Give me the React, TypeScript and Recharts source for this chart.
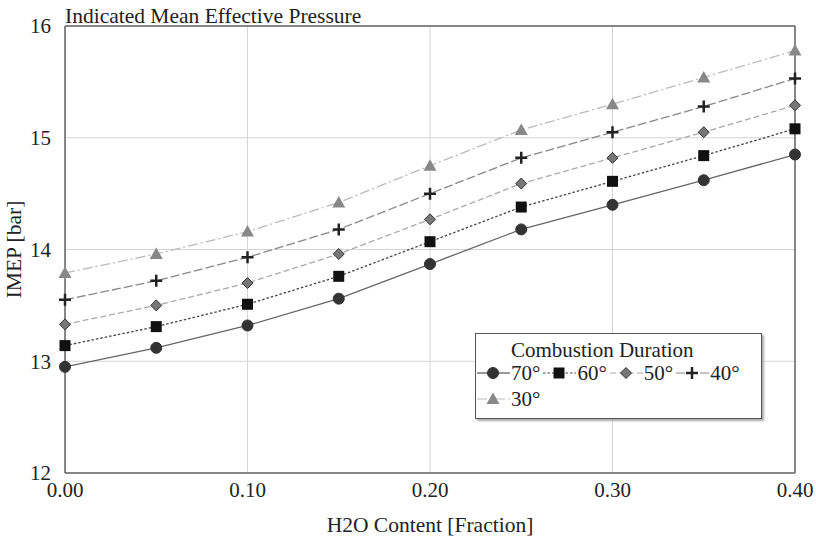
import { LineChart, Line, XAxis, YAxis, CartesianGrid, ReferenceLine } from 'recharts'

const h2o = [0, 0.05, 0.1, 0.15, 0.2, 0.25, 0.3, 0.35, 0.4]
const imep70 = [12.95, 13.12, 13.32, 13.56, 13.87, 14.18, 14.4, 14.62, 14.85]
const imep60 = [13.14, 13.31, 13.51, 13.76, 14.07, 14.38, 14.61, 14.84, 15.08]
const imep50 = [13.33, 13.5, 13.7, 13.96, 14.27, 14.59, 14.82, 15.05, 15.29]
const imep40 = [13.55, 13.72, 13.93, 14.18, 14.5, 14.82, 15.05, 15.28, 15.53]
const imep30 = [13.79, 13.96, 14.16, 14.42, 14.75, 15.07, 15.3, 15.54, 15.78]

const xTicks = [0, 0.1, 0.2, 0.3, 0.4]
const yTicks = [12, 13, 14, 15, 16]

const data = h2o.map((x, i) => ({
  x,
  d70: imep70[i],
  d60: imep60[i],
  d50: imep50[i],
  d40: imep40[i],
  d30: imep30[i],
}))

const FONT = '"Liberation Serif", "Times New Roman", serif'

type Shape = 'circle' | 'square' | 'diamond' | 'plus' | 'triangle'

function Marker({ shape, cx, cy }: { shape: Shape; cx: number; cy: number }) {
  if (shape === 'circle') return <circle cx={cx} cy={cy} r={5.5} fill="#333" stroke="#333" />
  if (shape === 'square') return <rect x={cx - 5.5} y={cy - 5.5} width={11} height={11} fill="#111" />
  if (shape === 'diamond')
    return (
      <path
        d={`M${cx},${cy - 5.5}L${cx + 5.5},${cy}L${cx},${cy + 5.5}L${cx - 5.5},${cy}Z`}
        fill="#777"
        stroke="#333"
        strokeWidth={1}
      />
    )
  if (shape === 'plus')
    return (
      <path
        d={`M${cx - 6},${cy}H${cx + 6}M${cx},${cy - 6}V${cy + 6}`}
        stroke="#222"
        strokeWidth={2.5}
      />
    )
  return (
    <path d={`M${cx},${cy - 6.5}L${cx + 6.5},${cy + 5}L${cx - 6.5},${cy + 5}Z`} fill="#888" />
  )
}

const series = [
  { key: 'd70', name: '70°', color: '#666', dash: undefined, shape: 'circle' as Shape },
  { key: 'd60', name: '60°', color: '#444', dash: '2.5 2', shape: 'square' as Shape },
  { key: 'd50', name: '50°', color: '#aaa', dash: '6 3', shape: 'diamond' as Shape },
  { key: 'd40', name: '40°', color: '#888', dash: '9 3', shape: 'plus' as Shape },
  { key: 'd30', name: '30°', color: '#bbb', dash: '10 3 2 3', shape: 'triangle' as Shape },
]

function LegendBox() {
  return (
    <div
      style={{
        position: 'absolute',
        left: 475,
        top: 333,
        width: 287,
        height: 86,
        border: '1px solid #555',
        boxShadow: '2px 2px 2px #aaa',
        background: '#fff',
        fontFamily: FONT,
        fontSize: 21,
        color: '#222',
        boxSizing: 'border-box',
        lineHeight: '26px',
      }}
    >
      <div style={{ paddingLeft: 35, paddingTop: 3 }}>Combustion Duration</div>
      <div style={{ display: 'flex', flexWrap: 'wrap', marginTop: -3 }}>
        {series.map((s) => (
          <div key={s.key} style={{ display: 'flex', alignItems: 'center', marginRight: 2 }}>
            <svg width={35} height={20}>
              <line x1={1} y1={10} x2={34} y2={10} stroke={s.color === '#666' ? '#333' : s.color} strokeWidth={1.2} strokeDasharray={s.dash} />
              <Marker shape={s.shape} cx={17} cy={10} />
            </svg>
            <span>{s.name}</span>
          </div>
        ))}
      </div>
    </div>
  )
}

const tickStyle = { fontFamily: FONT, fontSize: 21, fill: '#222' }
const labelStyle = { fontFamily: FONT, fontSize: 21.5, fill: '#222' }

export default function App() {
  return (
    <div style={{ position: 'absolute', left: 0, top: 0, width: 816, height: 541, background: '#fff', fontFamily: FONT }}>
      <LineChart
        width={816}
        height={541}
        data={data}
        margin={{ top: 26, right: 21, bottom: 8, left: 5 }}
        style={{ fontFamily: FONT }}
      >
        <CartesianGrid stroke="#d4d4d4" />
        <XAxis
          dataKey="x"
          type="number"
          domain={[0, 0.4]}
          ticks={xTicks}
          tickFormatter={(v: number) => v.toFixed(2)}
          tickLine={false}
          axisLine={{ stroke: '#666', strokeWidth: 1.5 }}
          tick={tickStyle}
          tickMargin={3}
          height={60}
          label={{ value: 'H2O Content [Fraction]', position: 'insideBottom', offset: 1, style: labelStyle }}
        />
        <YAxis
          type="number"
          domain={[12, 16]}
          ticks={yTicks}
          tickLine={false}
          axisLine={{ stroke: '#666', strokeWidth: 1.5 }}
          tick={tickStyle}
          tickMargin={8}
          width={60}
          label={{ value: 'IMEP [bar]', angle: -90, position: 'insideLeft', offset: 8, style: { ...labelStyle, textAnchor: 'middle' } }}
        />
        <ReferenceLine y={16} stroke="#666" strokeWidth={1.5} />
        <ReferenceLine x={0.4} stroke="#666" strokeWidth={1.5} />
        {series.map((s) => (
          <Line
            key={s.key}
            dataKey={s.key}
            name={s.name}
            stroke={s.color}
            strokeWidth={1.3}
            strokeDasharray={s.dash}
            isAnimationActive={false}
            legendType="none"
            dot={(p: any) => <Marker key={`${s.key}-${p.index}`} shape={s.shape} cx={p.cx} cy={p.cy} />}
            activeDot={false}
          />
        ))}
      </LineChart>
      <div
        style={{
          position: 'absolute',
          left: 65,
          top: 6,
          fontFamily: FONT,
          fontSize: 21.5,
          lineHeight: 1,
          color: '#222',
          whiteSpace: 'nowrap',
        }}
      >
        Indicated Mean Effective Pressure
      </div>
      <LegendBox />
    </div>
  )
}
